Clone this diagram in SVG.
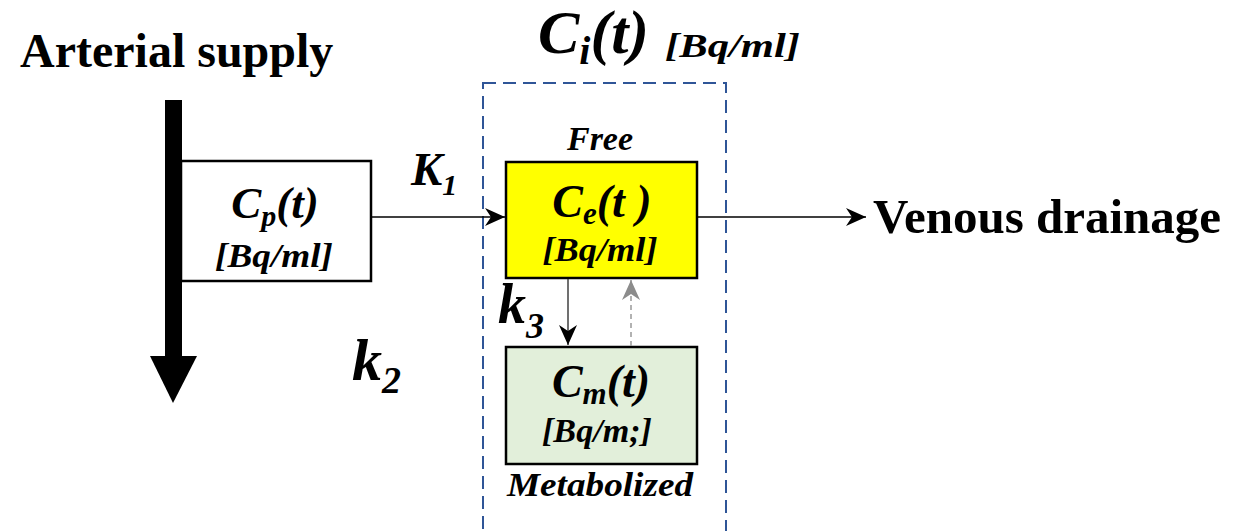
<svg xmlns="http://www.w3.org/2000/svg" width="1233" height="531" viewBox="0 0 1233 531">
<defs>
<style>
.t{font-family:"Liberation Serif","Times New Roman",serif;font-weight:bold;fill:#000}
.i{font-style:italic}
.box{stroke:#000;stroke-width:2.5}
</style>
<marker id="ah" markerUnits="userSpaceOnUse" markerWidth="22" markerHeight="18" refX="20" refY="9" orient="auto">
<path d="M0,0 L20,9 L0,18 L6,9 z" fill="#000"/>
</marker>
<marker id="ahg" markerUnits="userSpaceOnUse" markerWidth="22" markerHeight="18" refX="20" refY="9" orient="auto">
<path d="M0,0 L20,9 L0,18 L6,9 z" fill="#8c8c8c"/>
</marker>
</defs>
<rect width="1233" height="531" fill="#fff"/>

<g id="arterial">
<text class="t" x="20" y="67" font-size="48">Arterial supply</text>
<rect x="165" y="100" width="17" height="258" fill="#000"/>
<polygon points="150,356 197,356 173,403" fill="#000"/>
</g>

<g id="ci-label">
<text class="t i" x="538" y="53" font-size="62">C<tspan font-size="40" dy="11">i</tspan><tspan dy="-11">(t)</tspan></text>
<text class="t i" x="665" y="57" font-size="34" textLength="135" lengthAdjust="spacingAndGlyphs">[Bq/ml]</text>
</g>

<g id="tissue">
<rect x="483" y="83" width="243" height="470" fill="none" stroke="#2f5597" stroke-width="2" stroke-dasharray="13,7"/>
</g>

<g id="cp">
<rect class="box" x="181" y="161" width="190" height="120" fill="#fff" stroke-width="2"/>
<text class="t i" x="275" y="218" font-size="45" text-anchor="middle">C<tspan font-size="30" dy="8">p</tspan><tspan dy="-8">(t)</tspan></text>
<text class="t i" x="274" y="267" font-size="34" text-anchor="middle" textLength="118" lengthAdjust="spacingAndGlyphs">[Bq/ml]</text>
</g>

<g id="ce">
<text class="t i" x="600" y="150" font-size="34" text-anchor="middle">Free</text>
<rect class="box" x="506" y="162" width="191" height="116" fill="#ffff00"/>
<text class="t i" x="602" y="217" font-size="46" text-anchor="middle">C<tspan font-size="31" dy="7">e</tspan><tspan dy="-7">(t )</tspan></text>
<text class="t i" x="600" y="261" font-size="34" text-anchor="middle" textLength="115" lengthAdjust="spacingAndGlyphs">[Bq/ml]</text>
</g>

<g id="cm">
<rect class="box" x="506" y="347" width="191" height="117" fill="#e2efda"/>
<text class="t i" x="601" y="397" font-size="46" text-anchor="middle">C<tspan font-size="31" dy="7">m</tspan><tspan dy="-7">(t)</tspan></text>
<text class="t i" x="597" y="442" font-size="33" text-anchor="middle" textLength="110" lengthAdjust="spacingAndGlyphs">[Bq/m;]</text>
<text class="t i" x="600" y="496" font-size="33" text-anchor="middle" textLength="186" lengthAdjust="spacingAndGlyphs">Metabolized</text>
</g>

<g id="venous">
<text class="t" x="873" y="233" font-size="49">Venous drainage</text>
</g>

<g id="connectors">
<line x1="371" y1="217" x2="505" y2="217" stroke="#000" stroke-width="1.5" marker-end="url(#ah)"/>
<line x1="697" y1="217" x2="866" y2="217" stroke="#000" stroke-width="1.5" marker-end="url(#ah)"/>
<line x1="568" y1="279" x2="568" y2="345" stroke="#404040" stroke-width="1.5" marker-end="url(#ah)"/>
<line x1="631" y1="346" x2="631" y2="280" stroke="#999" stroke-width="1.5" stroke-dasharray="5,4" marker-end="url(#ahg)"/>
<text class="t i" x="411" y="185" font-size="47">K<tspan font-size="30" dy="10">1</tspan></text>
<text class="t i" x="352" y="380" font-size="60">k<tspan font-size="38" dy="13">2</tspan></text>
<text class="t i" x="498" y="323" font-size="56">k<tspan font-size="36" dy="15">3</tspan></text>
</g>
</svg>
